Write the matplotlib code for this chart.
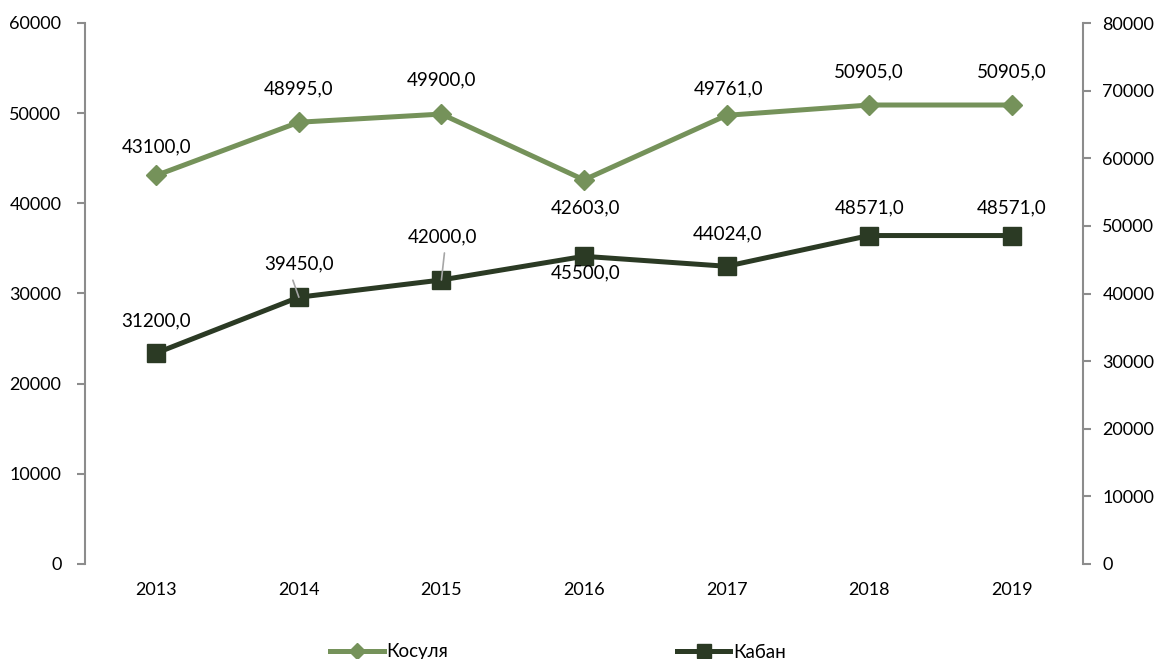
import matplotlib
matplotlib.use("Agg")
import matplotlib.pyplot as plt
from matplotlib.lines import Line2D

plt.rcParams['font.family'] = ['Lato', 'DejaVu Sans']

years = ["2013", "2014", "2015", "2016", "2017", "2018", "2019"]
kosulya = [43100, 48995, 49900, 42603, 49761, 50905, 50905]
kaban = [31200, 39450, 42000, 45500, 44024, 48571, 48571]
left_ticks = [0, 10000, 20000, 30000, 40000, 50000, 60000]
right_ticks = [0, 10000, 20000, 30000, 40000, 50000, 60000, 70000, 80000]

c_kos = "#75925A"
c_kab = "#2B3A24"
axis_col = "#8C8C8C"
fs = 13.5
tfs = 13

fig = plt.figure(figsize=(11.56, 6.59), dpi=100)
ax = fig.add_axes([85/1156, 1-564/659, (1083-85)/1156, (564-23)/659])
ax2 = ax.twinx()

x = list(range(len(years)))
ax.plot(x, kosulya, color=c_kos, lw=3.6, marker="D", ms=10, mec=c_kos, mfc=c_kos, zorder=3)
ax2.plot(x, kaban, color=c_kab, lw=3.6, marker="s", ms=13, mec=c_kab, mfc=c_kab, zorder=3)

ax.set_xlim(-0.5, 6.5)
ax.set_ylim(0, 60000)
ax2.set_ylim(0, 80000)
ax.set_yticks(left_ticks)
ax2.set_yticks(right_ticks)
ax.set_xticks(x)
ax.set_xticklabels(years)

for a in (ax, ax2):
    a.spines['top'].set_visible(False)
    a.spines['bottom'].set_visible(False)
    for s in ('left', 'right'):
        a.spines[s].set_color(axis_col)
        a.spines[s].set_linewidth(1.5)
    a.tick_params(axis='y', direction='out', length=6, width=1.5, color=axis_col,
                  labelsize=tfs)
ax.tick_params(axis='y', pad=11)
ax2.tick_params(axis='y', pad=8)
ax.spines['right'].set_visible(False)
ax2.spines['left'].set_visible(False)
ax.tick_params(axis='x', length=0, labelsize=tfs, pad=13)

def fmt(v):
    return f"{v:.1f}".replace(".", ",")

kos_off = [(0, 29), (0, 33), (0, 34), (2, -28), (2, 26), (0, 33), (0, 33)]
kab_off = [(0, 32), (0, 33), (1, 43), (2, -17), (1, 32), (0, 28), (0, 28)]

for i, v in enumerate(kosulya):
    ax.annotate(fmt(v), (i, v), xytext=kos_off[i], textcoords='offset pixels',
                ha='center', va='center', fontsize=fs, zorder=5)
for i, v in enumerate(kaban):
    ax2.annotate(fmt(v), (i, v), xytext=kab_off[i], textcoords='offset pixels',
                 ha='center', va='center', fontsize=fs, zorder=5)

# leader lines
ax2.annotate("", (1, kaban[1]), xytext=(-6, 17), textcoords='offset pixels',
             arrowprops=dict(arrowstyle='-', color='#A6A6A6', lw=1.2, shrinkA=0, shrinkB=0))
ax2.annotate("", (2, kaban[2]), xytext=(3, 27), textcoords='offset pixels',
             arrowprops=dict(arrowstyle='-', color='#A6A6A6', lw=1.2, shrinkA=0, shrinkB=0))

h1 = Line2D([], [], color=c_kos, lw=3.6, marker="D", ms=8, mec=c_kos, mfc=c_kos)
h2 = Line2D([], [], color=c_kab, lw=3.6, marker="s", ms=10, mec=c_kab, mfc=c_kab)
fig.legend([h1, h2], ["Косуля", "Кабан"], loc='center', bbox_to_anchor=(558/1156, 1-652/659),
           ncol=2, frameon=False, fontsize=fs, handlelength=2.85, handletextpad=0.15,
           columnspacing=12.2)

fig.savefig("out.png", dpi=100)
